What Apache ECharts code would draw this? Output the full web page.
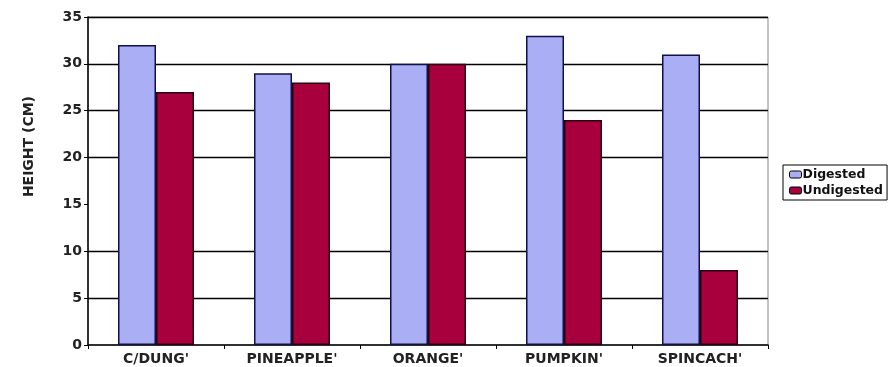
<!DOCTYPE html>
<html><head><meta charset="utf-8">
<script src="https://cdn.jsdelivr.net/npm/echarts@6/dist/echarts.min.js"></script>
<style>html,body{margin:0;padding:0;background:#fff}#c{width:894px;height:367px}</style>
</head><body><div id="c"></div>
<script>
const categories = ["C/DUNG'", "PINEAPPLE'", "ORANGE'", "PUMPKIN'", "SPINCACH'"];
const digested = [32, 29, 30, 33, 31];
const undigested = [27, 28, 30, 24, 8];
const yMin = 0, yMax = 35, yStep = 5;
const gridValues = [5, 10, 20, 25, 30, 35];

const chart = echarts.init(document.getElementById('c'), null, {renderer: 'canvas'});
const font = 'DejaVu Sans, sans-serif';
chart.setOption({
  animation: false,
  backgroundColor: '#fff',
  grid: {left: 88, right: 126, top: 17, bottom: 22, show: true, borderColor: '#888', borderWidth: 1, backgroundColor: 'transparent'},
  legend: {
    orient: 'vertical', left: 783, top: 165,
    itemWidth: 12, itemHeight: 7, itemGap: 3,
    padding: [3, 4, 3, 6],
    borderColor: '#000', borderWidth: 1,
    textStyle: {fontFamily: font, fontWeight: 'bold', fontSize: 12.5, color: '#111', padding: [0, 0, 0, -4]},
    data: [
      {name: 'Digested', itemStyle: {color: '#a9aef5', borderColor: '#000', borderWidth: 1}},
      {name: 'Undigested', itemStyle: {color: '#a8003c', borderColor: '#000', borderWidth: 1}}
    ]
  },
  xAxis: {
    type: 'category', data: categories,
    axisLine: {lineStyle: {color: '#000', width: 1.5}},
    axisTick: {show: true, length: 4, lineStyle: {color: '#000'}},
    axisLabel: {fontFamily: font, fontWeight: 'bold', fontSize: 14, color: '#222', margin: 7}
  },
  yAxis: {
    type: 'value', min: yMin, max: yMax, interval: yStep,
    axisLine: {show: true, lineStyle: {color: '#000', width: 1.5}},
    axisTick: {show: true, length: 4, lineStyle: {color: '#000'}},
    axisLabel: {fontFamily: font, fontWeight: 'bold', fontSize: 14, color: '#222', margin: 6},
    splitLine: {show: false}
  },
  graphic: [{
    type: 'text', left: 22, top: 96, rotation: Math.PI / 2,
    style: {text: 'HEIGHT (CM)', font: 'bold 14px DejaVu Sans, sans-serif', fill: '#222'}
  }],
  series: [
    {name: 'grid', type: 'line', data: [], z: 1, silent: true,
     markLine: {z: 1, silent: true, symbol: 'none', label: {show: false},
       lineStyle: {color: '#000', width: 1.3, type: 'solid'},
       data: gridValues.map(v => ({yAxis: v}))}},
    {name: 'Digested', type: 'bar', data: digested, barWidth: 38, barGap: '0%', z: 3,
     itemStyle: {color: '#a9aef5', borderColor: '#10104a', borderWidth: 1.5}},
    {name: 'Undigested', type: 'bar', data: undigested, barWidth: 38, z: 3,
     itemStyle: {color: '#a8003c', borderColor: '#2a0010', borderWidth: 1.5}}
  ]
});
</script></body></html>
